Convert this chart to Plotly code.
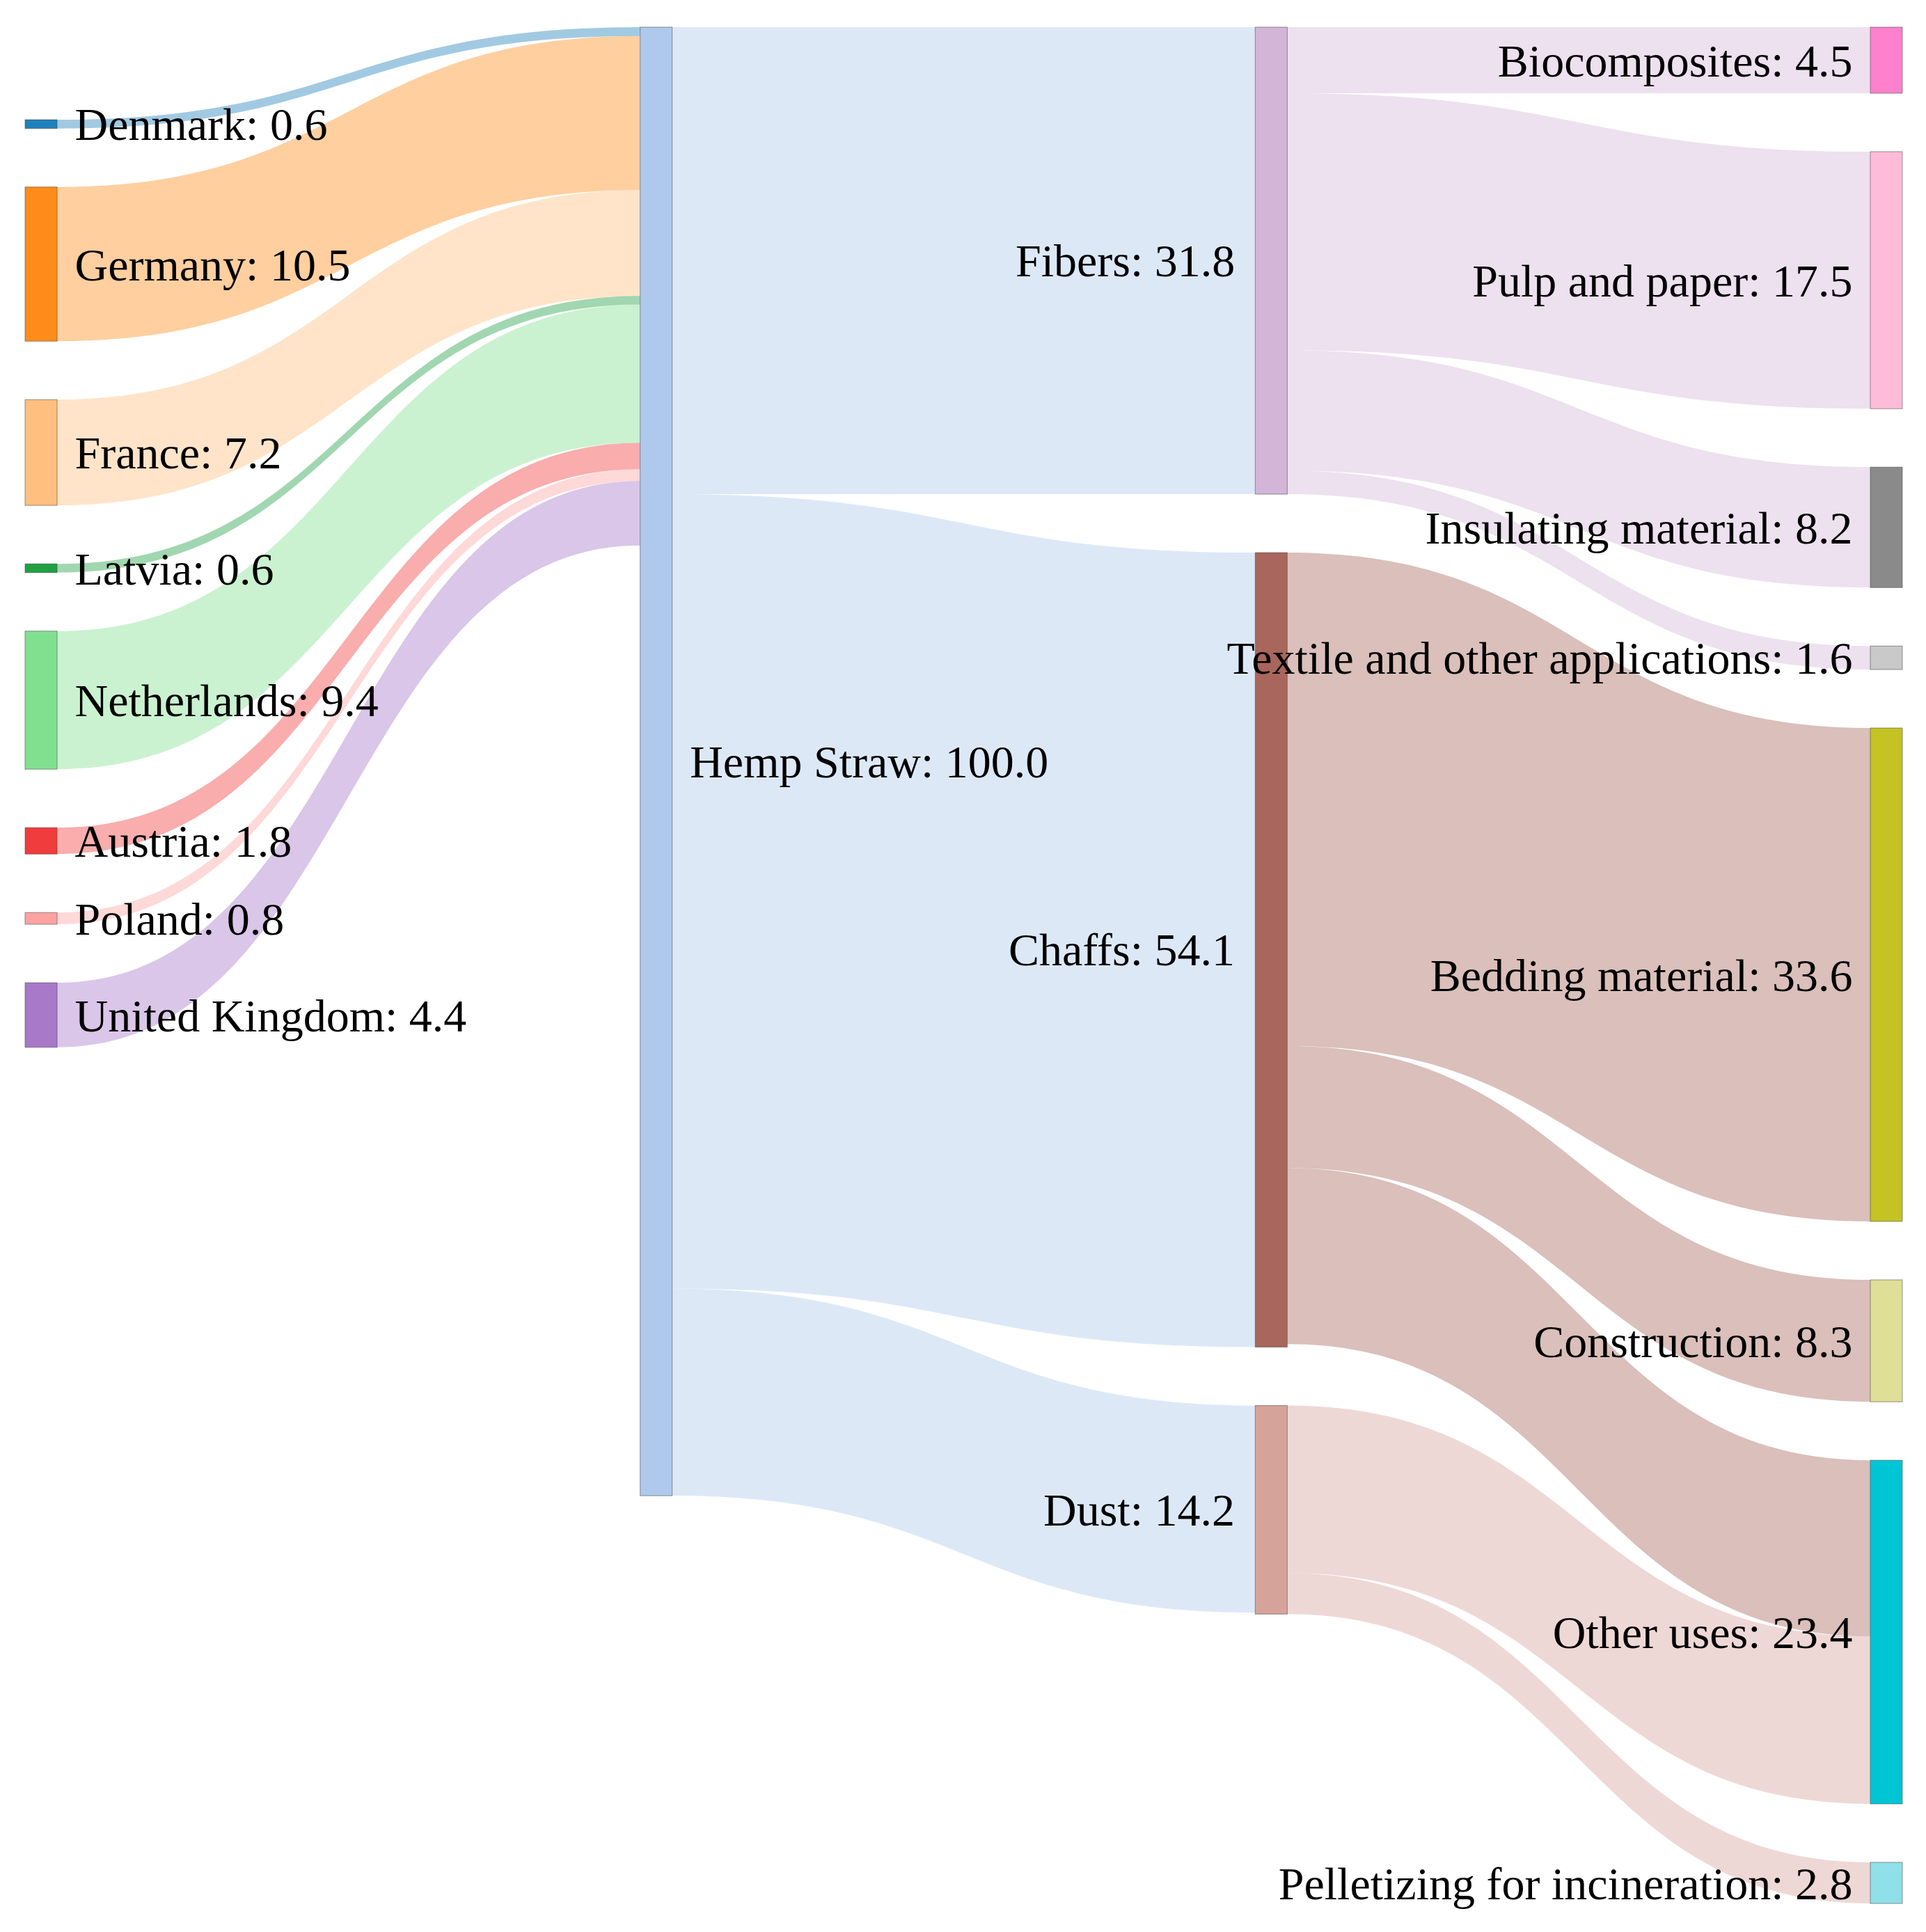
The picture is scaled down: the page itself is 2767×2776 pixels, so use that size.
import plotly.graph_objects as go

# ---- data ----
node_names = [
    "Denmark", "Germany", "France", "Latvia", "Netherlands", "Austria", "Poland", "United Kingdom",
    "Hemp Straw",
    "Fibers", "Chaffs", "Dust",
    "Biocomposites", "Pulp and paper", "Insulating material", "Textile and other applications",
    "Bedding material", "Construction", "Other uses", "Pelletizing for incineration",
]
node_columns = [0, 0, 0, 0, 0, 0, 0, 0,
                1,
                2, 2, 2,
                3, 3, 3, 3, 3, 3, 3, 3]
node_colors = [
    "#1f80bb", "#ff8c1a", "#ffbf7e", "#1fa043", "#80e08f", "#f03c3c", "#ffa3a3", "#a878c9",
    "#aec9ec",
    "#d3b5d8", "#a8665c", "#d6a39b",
    "#ff80cc", "#ffbcd9", "#8a8a8a", "#c9c9c9",
    "#c5c323", "#e0df98", "#00c5d4", "#8fe0e8",
]
link_sources = ["Denmark", "Germany", "France", "Latvia", "Netherlands", "Austria", "Poland", "United Kingdom",
                "Hemp Straw", "Hemp Straw", "Hemp Straw",
                "Fibers", "Fibers", "Fibers", "Fibers",
                "Chaffs", "Chaffs", "Chaffs",
                "Dust", "Dust"]
link_targets = ["Hemp Straw"] * 8 + ["Fibers", "Chaffs", "Dust",
                "Biocomposites", "Pulp and paper", "Insulating material", "Textile and other applications",
                "Bedding material", "Construction", "Other uses",
                "Other uses", "Pelletizing for incineration"]
link_values = [0.6, 10.5, 7.2, 0.6, 9.4, 1.8, 0.8, 4.4,
               31.8, 54.1, 14.1,
               4.5, 17.5, 8.2, 1.6,
               33.6, 8.3, 12.0,
               11.4, 2.8]

# ---- layout parameters (px) ----
FIG_W, FIG_H = 2767, 2776
M_L, M_R, M_T, M_B = 28, 42, 31, 49
PAD = 84
THICK = 46
COL_OFFSET = [133, 0, 0, 0]   # vertical start of each column's stack
LABEL_GAP = 27
FONT_SIZE = 66

W = FIG_W - M_L - M_R
H = FIG_H - M_T - M_B

# ---- build ----
idx = {n: i for i, n in enumerate(node_names)}
src = [idx[s] for s in link_sources]
tgt = [idx[t] for t in link_targets]

n_nodes = len(node_names)
inflow = [0.0] * n_nodes
outflow = [0.0] * n_nodes
for s, t, v in zip(src, tgt, link_values):
    outflow[s] += v
    inflow[t] += v
node_val = [max(inflow[i], outflow[i]) for i in range(n_nodes)]
label_text = [f"{n}: {node_val[i]:.1f}" for i, n in enumerate(node_names)]

ncols = max(node_columns) + 1
cols = [[i for i in range(n_nodes) if node_columns[i] == c] for c in range(ncols)]
ky = min((H - (len(c) - 1) * PAD) / sum(node_val[i] for i in c) for c in cols)

node_x, node_y = [0.0] * n_nodes, [0.0] * n_nodes
for c, members in enumerate(cols):
    y = COL_OFFSET[c]
    xc = c * (W - THICK) / (ncols - 1) + THICK / 2
    for i in members:
        h = node_val[i] * ky
        node_x[i] = xc / W
        node_y[i] = (y + h / 2) / H
        y += h + PAD

SP = "\u2004"
# column-2 labels sit to the left of their nodes (drawn as annotations)
node_labels = []
annotations = []
for i in range(n_nodes):
    if node_columns[i] == 2:
        node_labels.append("")
        x_left = node_x[i] * W - THICK / 2 - LABEL_GAP
        annotations.append(dict(
            x=x_left / W, y=1 - node_y[i], xref="paper", yref="paper",
            text=label_text[i], showarrow=False, xanchor="right", yanchor="middle",
            font=dict(family="Liberation Serif, Times New Roman, serif", size=FONT_SIZE, color="black"),
        ))
    else:
        node_labels.append(SP + label_text[i] + SP)


def rgba(hexc, a):
    h = hexc.lstrip("#")
    r, g, b = int(h[0:2], 16), int(h[2:4], 16), int(h[4:6], 16)
    return f"rgba({r},{g},{b},{a})"


link_colors = [rgba(node_colors[s], 0.42) for s in src]

font = dict(family="Liberation Serif, Times New Roman, serif", size=FONT_SIZE, color="black")
node_spec = dict(label=node_labels, color=node_colors, pad=PAD, thickness=THICK,
                 x=node_x, y=node_y,
                 line=dict(color="rgba(68,68,68,0.55)", width=1))
link_spec = dict(source=src, target=tgt, value=link_values, color=link_colors)
try:
    sk = go.Sankey(arrangement="fixed", textfont=dict(font, shadow="none"),
                   node=node_spec, link=link_spec)
except ValueError:
    sk = go.Sankey(arrangement="fixed", textfont=font, node=node_spec, link=link_spec)

fig = go.Figure(sk)
fig.update_layout(
    width=FIG_W, height=FIG_H,
    margin=dict(l=M_L, r=M_R, t=M_T, b=M_B),
    paper_bgcolor="white",
    font=font,
    annotations=annotations,
)
fig.write_html("out.html")
